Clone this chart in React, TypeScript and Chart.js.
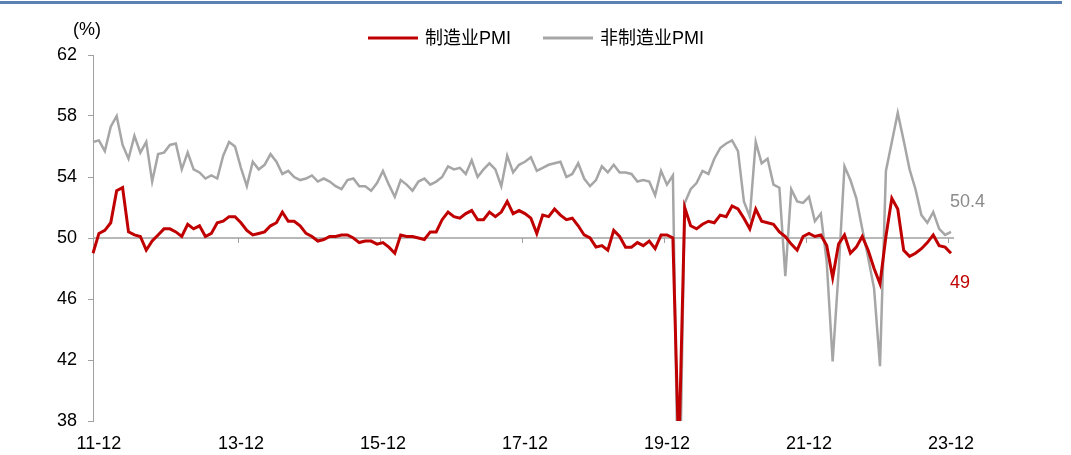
import React, { useEffect, useRef } from "react";
import { Chart, registerables } from "chart.js";

Chart.register(...registerables);

// Monthly categories: 2011-11 .. 2023-12
const startYear = 2011;
const startMonth = 11;
const monthCount = 146;
const categories: string[] = [];
for (let i = 0; i < monthCount; i++) {
  const m = startMonth - 1 + i;
  const y = startYear + Math.floor(m / 12);
  const mm = (m % 12) + 1;
  categories.push(`${String(y).slice(2)}-${String(mm).padStart(2, "0")}`);
}

const tickLabels = ["11-12", "13-12", "15-12", "17-12", "19-12", "21-12", "23-12"];

const mfgPMI = [
  49.0, 50.3,
  50.5, 51.0, 53.1, 53.3, 50.4, 50.2, 50.1, 49.2, 49.8, 50.2, 50.6, 50.6,
  50.4, 50.1, 50.9, 50.6, 50.8, 50.1, 50.3, 51.0, 51.1, 51.4, 51.4, 51.0,
  50.5, 50.2, 50.3, 50.4, 50.8, 51.0, 51.7, 51.1, 51.1, 50.8, 50.3, 50.1,
  49.8, 49.9, 50.1, 50.1, 50.2, 50.2, 50.0, 49.7, 49.8, 49.8, 49.6, 49.7,
  49.4, 49.0, 50.2, 50.1, 50.1, 50.0, 49.9, 50.4, 50.4, 51.2, 51.7, 51.4,
  51.3, 51.6, 51.8, 51.2, 51.2, 51.7, 51.4, 51.7, 52.4, 51.6, 51.8, 51.6,
  51.3, 50.3, 51.5, 51.4, 51.9, 51.5, 51.2, 51.3, 50.8, 50.2, 50.0, 49.4,
  49.5, 49.2, 50.5, 50.1, 49.4, 49.4, 49.7, 49.5, 49.8, 49.3, 50.2, 50.2,
  50.0, 35.7, 52.0, 50.8, 50.6, 50.9, 51.1, 51.0, 51.5, 51.4, 52.1, 51.9,
  51.3, 50.6, 51.9, 51.1, 51.0, 50.9, 50.4, 50.1, 49.6, 49.2, 50.1, 50.3,
  50.1, 50.2, 49.5, 47.4, 49.6, 50.2, 49.0, 49.4, 50.1, 49.2, 48.0, 47.0,
  50.1, 52.6, 51.9, 49.2, 48.8, 49.0, 49.3, 49.7, 50.2, 49.5, 49.4, 49.0,
];

const nonMfgPMI = [
  56.3, 56.4,
  55.7, 57.3, 58.0, 56.1, 55.2, 56.7, 55.6, 56.3, 53.7, 55.5, 55.6, 56.1,
  56.2, 54.5, 55.6, 54.5, 54.3, 53.9, 54.1, 53.9, 55.4, 56.3, 56.0, 54.6,
  53.4, 55.0, 54.5, 54.8, 55.5, 55.0, 54.2, 54.4, 54.0, 53.8, 53.9, 54.1,
  53.7, 53.9, 53.7, 53.4, 53.2, 53.8, 53.9, 53.4, 53.4, 53.1, 53.6, 54.4,
  53.5, 52.7, 53.8, 53.5, 53.1, 53.7, 53.9, 53.5, 53.7, 54.0, 54.7, 54.5,
  54.6, 54.2, 55.1, 54.0, 54.5, 54.9, 54.5, 53.4, 55.4, 54.3, 54.8, 55.0,
  55.3, 54.4, 54.6, 54.8, 54.9, 55.0, 54.0, 54.2, 54.9, 53.9, 53.4, 53.8,
  54.7, 54.3, 54.8, 54.3, 54.3, 54.2, 53.7, 53.8, 53.7, 52.8, 54.4, 53.5,
  54.1, 29.6, 52.3, 53.2, 53.6, 54.4, 54.2, 55.2, 55.9, 56.2, 56.4, 55.7,
  52.4, 51.4, 56.3, 54.9, 55.2, 53.5, 53.3, 47.5, 53.2, 52.4, 52.3, 52.7,
  51.1, 51.6, 48.4, 41.9, 47.8, 54.7, 53.8, 52.6, 50.6, 48.7, 46.7, 41.6,
  54.4, 56.3, 58.2, 56.4, 54.5, 53.2, 51.5, 51.0, 51.7, 50.6, 50.2, 50.4,
];

const seriesNames = ["制造业PMI", "非制造业PMI"];
const RED = "#c00000";
const GRAY = "#a6a6a6";
const AXIS = "#a0a0a0";
const NUM_FONT = '"Liberation Sans", Arial, sans-serif';
const CJK_FONT = '"Liberation Sans", Arial, "Noto Sans CJK SC", sans-serif';

const decorPlugin = {
  id: "decor",
  beforeDatasetsDraw(chart: any) {
    const { ctx, chartArea, scales } = chart;
    const y50 = scales.y.getPixelForValue(50);
    ctx.save();
    ctx.strokeStyle = AXIS;
    ctx.lineWidth = 1.5;
    ctx.beginPath();
    ctx.moveTo(chartArea.left, y50);
    ctx.lineTo(chartArea.right + 3, y50);
    ctx.stroke();
    ctx.lineWidth = 1;
    for (let i = 24.5; i < monthCount; i += 24) {
      const x = Math.round(scales.x.getPixelForValue(i)) + 0.5;
      ctx.beginPath();
      ctx.moveTo(x, y50);
      ctx.lineTo(x, y50 + 5);
      ctx.stroke();
    }
    ctx.restore();
  },
  afterDraw(chart: any) {
    const { ctx } = chart;
    ctx.save();
    // top rule
    ctx.fillStyle = "#5b80b2";
    ctx.fillRect(0, 1, 1062, 3);

    // unit
    ctx.fillStyle = "#000";
    ctx.font = `18px ${NUM_FONT}`;
    ctx.textAlign = "center";
    ctx.textBaseline = "middle";
    ctx.fillText("(%)", 87, 30);

    // legend
    const items = [
      { name: seriesNames[0], color: RED, x: 368, w: 3 },
      { name: seriesNames[1], color: GRAY, x: 543, w: 3 },
    ];
    ctx.textAlign = "left";
    ctx.font = `18px ${CJK_FONT}`;
    items.forEach((it) => {
      ctx.strokeStyle = it.color;
      ctx.lineWidth = it.w;
      ctx.beginPath();
      ctx.moveTo(it.x, 38);
      ctx.lineTo(it.x + 50, 38);
      ctx.stroke();
      ctx.fillStyle = "#000";
      ctx.fillText(it.name, it.x + 57, 39);
    });

    // end labels
    const last = monthCount - 1;
    ctx.font = `18px ${NUM_FONT}`;
    ctx.fillStyle = "#8c8c8c";
    ctx.fillText(String(nonMfgPMI[last]), 950, 202);
    ctx.fillStyle = RED;
    ctx.fillText(String(mfgPMI[last]), 950, 283);
    ctx.restore();
  },
};

export default function App() {
  const ref = useRef<HTMLCanvasElement | null>(null);
  useEffect(() => {
    if (!ref.current) return;
    const chart = new Chart(ref.current, {
      type: "line",
      data: {
        labels: categories,
        datasets: [
          {
            label: seriesNames[0],
            data: mfgPMI,
            borderColor: RED,
            borderWidth: 3,
            pointRadius: 0,
            tension: 0,
          },
          {
            label: seriesNames[1],
            data: nonMfgPMI,
            borderColor: GRAY,
            borderWidth: 2.5,
            pointRadius: 0,
            tension: 0,
          },
        ],
      },
      options: {
        responsive: false,
        animation: false,
        events: [],
        layout: { padding: { left: 0, top: 55, right: 120, bottom: 0 } },
        plugins: { legend: { display: false }, tooltip: { enabled: false } },
        scales: {
          x: {
            type: "category",
            offset: false,
            grid: { display: false, drawTicks: false },
            border: { display: false },
            ticks: {
              autoSkip: false,
              maxRotation: 0,
              minRotation: 0,
              padding: 12,
              color: "#000",
              font: { size: 18, family: NUM_FONT },
              callback: (_v: any, i: number) => {
                const lbl = categories[i];
                return tickLabels.includes(lbl) ? lbl : "";
              },
            },
            afterFit: (s: any) => {
              s.height = 34;
            },
          },
          y: {
            min: 38,
            max: 62,
            ticks: {
              stepSize: 4,
              padding: 11,
              color: "#000",
              font: { size: 18, family: NUM_FONT },
            },
            grid: {
              drawOnChartArea: false,
              drawTicks: true,
              tickLength: 5,
              color: AXIS,
            },
            border: { display: true, color: AXIS, width: 1 },
            afterFit: (s: any) => {
              s.width = 93;
            },
          },
        },
      },
      plugins: [decorPlugin],
    });
    return () => chart.destroy();
  }, []);
  return (
    <div style={{ position: "absolute", left: 0, top: 0, width: 1071, height: 455, background: "#fff" }}>
      <canvas ref={ref} width={1071} height={455} />
    </div>
  );
}
